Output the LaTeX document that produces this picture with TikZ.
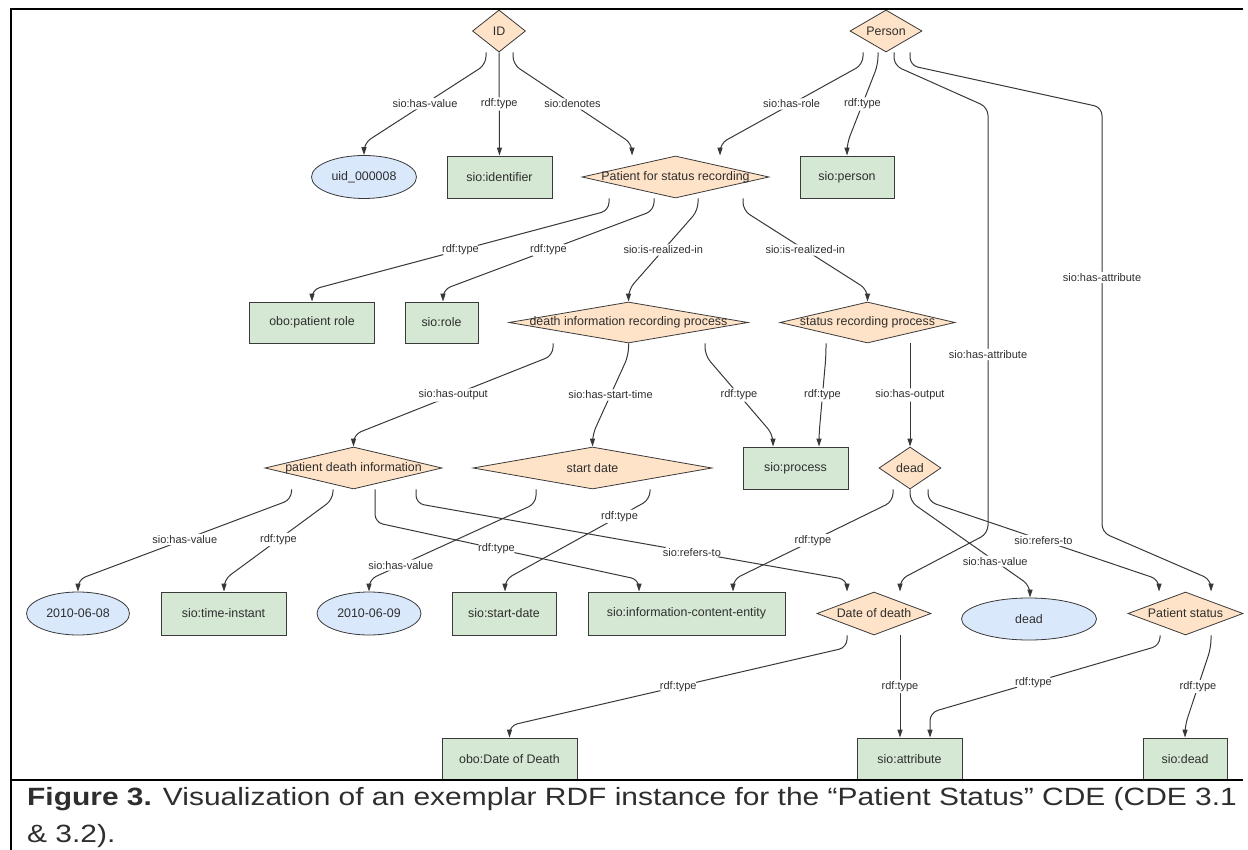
\documentclass[tikz,border=0pt]{standalone}
\usepackage{fontspec}
\setmainfont{Liberation Sans}
\usepackage{tikz}
\usetikzlibrary{
  arrows.meta,
  shapes.geometric,
}
\definecolor{classBg}{HTML}{D5E8D4}
\definecolor{instBg}{HTML}{FFE3C8}
\definecolor{litBg}{HTML}{DAE8FC}
\definecolor{nodeLine}{HTML}{3A3A3A}
\definecolor{edgeCol}{HTML}{383838}
\definecolor{inkGray}{HTML}{2E2E2E}
\newcommand{\dterm}[1]{\makebox[0pt]{#1}}   % text may overrun the diamond
\tikzset{
  termBase/.style={
    draw=nodeLine, line width=0.8pt, inner sep=0pt, text=inkGray,
    font=\fontsize{12.4}{14}\selectfont,
  },
  classBox/.style={termBase, rectangle, fill=classBg},
  instDiamond/.style={termBase, diamond, fill=instBg},
  litEllipse/.style={termBase, ellipse, fill=litBg},
  dims/.style 2 args={minimum width=#1pt, minimum height=#2pt},
  relArrow/.style={
    -{Triangle[length=8pt,width=5pt]}, line width=1pt, draw=edgeCol,
    rounded corners=8pt,
  },
  relLabel/.style={
    fill=white, inner sep=1.5pt, text=inkGray, midway,
    font=\fontsize{11}{13}\selectfont,
  },
  frameLine/.style={line width=1.3pt, draw=black},
  captionText/.style={
    anchor=north west, inner sep=0pt, align=left, text=inkGray,
    font=\fontsize{25}{37}\selectfont,
  },
}

\begin{document}
\begin{tikzpicture}[x=1pt, y=-1pt]
\useasboundingbox (0,0) rectangle (1248,850);

% row 0
\node[instDiamond, dims={53}{42}] (id) at (499,31) {\dterm{ID}};
\node[instDiamond, dims={72}{42}] (person) at (886,31) {\dterm{Person}};

% row 1
\node[litEllipse, dims={105}{43}] (uid) at (364,177) {uid\_000008};
\node[classBox, dims={105}{42}] (identifier) at (499.5,177) {sio:identifier};
\node[instDiamond, dims={187}{42}] (patient) at (675.5,177)
  {\dterm{Patient for status recording}};
\node[classBox, dims={94}{42}] (sioPerson) at (847,177) {sio:person};

% row 2
\node[classBox, dims={125}{41}] (patientRole) at (312,322.5) {obo:patient role};
\node[classBox, dims={73}{41}] (sioRole) at (441.5,322.5) {sio:role};
\node[instDiamond, dims={239}{41}] (deathProc) at (628.5,322.5)
  {\dterm{death information recording process}};
\node[instDiamond, dims={175}{41}] (statusProc) at (867.5,322.5)
  {\dterm{status recording process}};

% row 3
\node[instDiamond, dims={177}{42}] (deathInfo) at (353.5,468)
  {\dterm{patient death information}};
\node[instDiamond, dims={239}{42}] (startDate) at (592.5,468) {\dterm{start date}};
\node[classBox, dims={105}{42}] (sioProcess) at (795.5,468) {sio:process};
\node[instDiamond, dims={62}{42}] (deadState) at (910,468) {\dterm{dead}};

% row 4
\node[litEllipse, dims={103}{43}] (date0608) at (78,613.5) {2010-06-08};
\node[classBox, dims={125}{43}] (timeInstant) at (223.5,613.5) {sio:time-instant};
\node[litEllipse, dims={104}{43}] (date0609) at (369,613.5) {2010-06-09};
\node[classBox, dims={104}{43}] (sioStartDate) at (504,613.5) {sio:start-date};
\node[classBox, dims={197}{43}] (infoEntity) at (686.5,613.5)
  {sio:information-content-entity};
\node[instDiamond, dims={114}{43}] (dateOfDeath) at (874,613.5) {\dterm{Date of death}};
\node[litEllipse, dims={135}{42}] (deadValue) at (1029,619) {dead};
\node[instDiamond, dims={115}{43}] (patientStatus) at (1185.5,613.5)
  {\dterm{Patient status}};

% row 5
\node[classBox, dims={135}{42}] (oboDeath) at (509.5,759) {obo:Date of Death};
\node[classBox, dims={105}{42}] (sioAttribute) at (909.5,759) {sio:attribute};
\node[classBox, dims={84}{42}] (sioDead) at (1185,759) {sio:dead};

% edges from ID and Person
\draw[relArrow] ([xshift=-13pt]id.south) -- ++(0,12) -- ([yshift=12pt]uid.north)
  node[relLabel]{sio:has-value} -- (uid.north);
\draw[relArrow] (id.south) -- node[relLabel]{rdf:type} (identifier.north);
\draw[relArrow] ([xshift=14pt]id.south) -- ++(0,12)
  -- ([xshift=-43.5pt,yshift=12pt]patient.north) node[relLabel]{sio:denotes}
  -- ([xshift=-43.5pt]patient.north);
\draw[relArrow] ([xshift=-23pt]person.south) -- ++(0,12)
  -- ([xshift=44.5pt,yshift=12pt]patient.north) node[relLabel]{sio:has-role}
  -- ([xshift=44.5pt]patient.north);
\draw[relArrow] ([xshift=-8pt]person.south) -- ++(0,12)
  -- ([yshift=12pt]sioPerson.north) node[relLabel]{rdf:type} -- (sioPerson.north);
\draw[relArrow] ([xshift=8pt]person.south) -- ++(0,13) -- ++(94,42)
  -- ++(0,426) node[relLabel, pos=.58]{sio:has-attribute}
  -- ([xshift=26pt,yshift=12pt]dateOfDeath.north) -- ([xshift=26pt]dateOfDeath.north);
\draw[relArrow] ([xshift=24pt]person.south) -- ++(0,13) -- ++(192,42)
  -- ++(0,425) node[relLabel, pos=.4]{sio:has-attribute}
  -- ([xshift=25.5pt,yshift=12pt]patientStatus.north)
  -- ([xshift=25.5pt]patientStatus.north);

% edges from the role
\draw[relArrow] ([xshift=-66.5pt]patient.south) -- ++(0,12)
  -- ([yshift=12pt]patientRole.north) node[relLabel]{rdf:type} -- (patientRole.north);
\draw[relArrow] ([xshift=-21.5pt]patient.south) -- ++(0,12)
  -- ([xshift=1.5pt,yshift=12pt]sioRole.north) node[relLabel]{rdf:type}
  -- ([xshift=1.5pt]sioRole.north);
\draw[relArrow] ([xshift=22.5pt]patient.south) -- ++(0,12)
  -- ([yshift=12pt]deathProc.north) node[relLabel]{sio:is-realized-in}
  -- (deathProc.north);
\draw[relArrow] ([xshift=67.5pt]patient.south) -- ++(0,12)
  -- ([yshift=12pt]statusProc.north) node[relLabel]{sio:is-realized-in}
  -- (statusProc.north);

% edges from the processes
\draw[relArrow] ([xshift=-75.5pt]deathProc.south) -- ++(0,12)
  -- ([yshift=12pt]deathInfo.north) node[relLabel]{sio:has-output} -- (deathInfo.north);
\draw[relArrow] (deathProc.south) -- ++(0,12)
  -- ([yshift=12pt]startDate.north) node[relLabel]{sio:has-start-time}
  -- (startDate.north);
\draw[relArrow] ([xshift=76.5pt]deathProc.south) -- ++(0,12)
  -- ([xshift=-22.5pt,yshift=12pt]sioProcess.north) node[relLabel]{rdf:type}
  -- ([xshift=-22.5pt]sioProcess.north);
\draw[relArrow] ([xshift=-41.5pt]statusProc.south) -- ++(0,12)
  -- ([xshift=23.5pt,yshift=12pt]sioProcess.north) node[relLabel]{rdf:type}
  -- ([xshift=23.5pt]sioProcess.north);
\draw[relArrow] ([xshift=42.5pt]statusProc.south)
  -- node[relLabel]{sio:has-output} (deadState.north);

% edges from the outputs
\draw[relArrow] ([xshift=-62pt]deathInfo.south) -- ++(0,10)
  -- ([yshift=12pt]date0608.north) node[relLabel]{sio:has-value} -- (date0608.north);
\draw[relArrow] ([xshift=-20.5pt]deathInfo.south) -- ++(0,10)
  -- ([xshift=0.5pt,yshift=12pt]timeInstant.north) node[relLabel]{rdf:type}
  -- ([xshift=0.5pt]timeInstant.north);
\draw[relArrow] ([xshift=21.5pt]deathInfo.south) -- ++(0,33)
  -- ([xshift=-47.5pt,yshift=12pt]infoEntity.north) node[relLabel, pos=.46]{rdf:type}
  -- ([xshift=-47.5pt]infoEntity.north);
\draw[relArrow] ([xshift=62.5pt]deathInfo.south) -- ++(0,14)
  -- ([xshift=-27pt,yshift=12pt]dateOfDeath.north) node[relLabel, pos=.64]{sio:refers-to}
  -- ([xshift=-27pt]dateOfDeath.north);
\draw[relArrow] ([xshift=-56.5pt]startDate.south) -- ++(0,14)
  -- ([yshift=12pt]date0609.north) node[relLabel, pos=.81]{sio:has-value}
  -- (date0609.north);
\draw[relArrow] ([xshift=57.5pt]startDate.south) -- ++(0,10)
  -- ([xshift=1pt,yshift=12pt]sioStartDate.north) node[relLabel, pos=.21]{rdf:type}
  -- ([xshift=1pt]sioStartDate.north);
\draw[relArrow] ([xshift=-17pt]deadState.south) -- ++(0,12)
  -- ([xshift=46.5pt,yshift=12pt]infoEntity.north) node[relLabel]{rdf:type}
  -- ([xshift=46.5pt]infoEntity.north);
\draw[relArrow] (deadState.south) -- ++(0,12)
  -- ([xshift=1pt,yshift=12pt]deadValue.north) node[relLabel, pos=.71]{sio:has-value}
  -- ([xshift=1pt]deadValue.north);
\draw[relArrow] ([xshift=18pt]deadState.south) -- ++(0,12)
  -- ([xshift=-26.5pt,yshift=12pt]patientStatus.north) node[relLabel]{sio:refers-to}
  -- ([xshift=-26.5pt]patientStatus.north);

% edges to the classes at the bottom
\draw[relArrow] ([xshift=-27pt]dateOfDeath.south) -- ++(0,12)
  -- ([yshift=12pt]oboDeath.north) node[relLabel]{rdf:type} -- (oboDeath.north);
\draw[relArrow] ([xshift=26pt]dateOfDeath.south)
  -- node[relLabel]{rdf:type} ([xshift=-9.5pt]sioAttribute.north);
\draw[relArrow] ([xshift=-25.5pt]patientStatus.south) -- ++(0,10)
  -- ([xshift=20.5pt,yshift=25pt]sioAttribute.north) node[relLabel, pos=.55]{rdf:type}
  -- ([xshift=20.5pt]sioAttribute.north);
\draw[relArrow] ([xshift=25.5pt]patientStatus.south) -- ++(0,12)
  -- ([yshift=12pt]sioDead.north) node[relLabel]{rdf:type} -- (sioDead.north);

% frame and caption
\draw[frameLine] (11,850) -- (11,9) -- (1243,9);
\draw[frameLine] (11,780) -- (1243,780);
\node[captionText] (caption) at (27,787.5) {%
  \scalebox{1.197}[1]{\textbf{Figure 3.} Visualization of an exemplar RDF instance
    for the “Patient Status” CDE (CDE 3.1}\\
  \scalebox{1.197}[1]{\& 3.2).}};

\end{tikzpicture}
\end{document}
